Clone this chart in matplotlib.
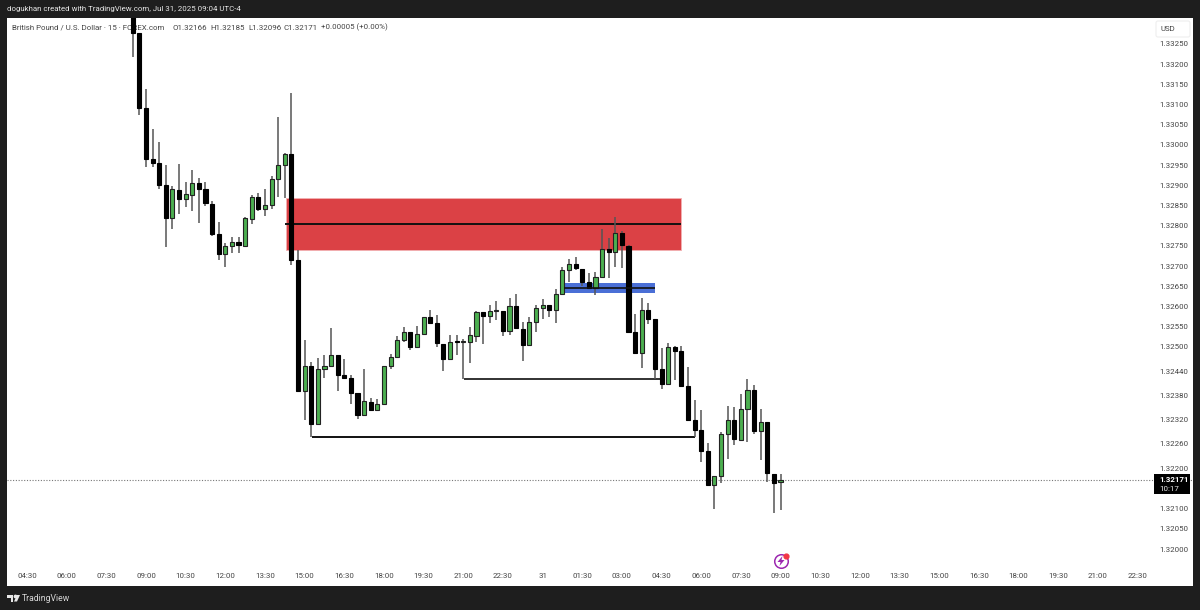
import matplotlib
matplotlib.use('Agg')
import matplotlib.pyplot as plt
from matplotlib.patches import Rectangle, FancyBboxPatch, Polygon

plt.rcParams['font.family'] = ['Roboto', 'DejaVu Sans']

# 15 minute candles
opens = [
    1.33346, 1.33277, 1.33091, 1.32965, 1.32955, 1.32901, 1.32819, 1.32889, 1.32866, 1.32876,
    1.32906, 1.32891, 1.32854, 1.32780, 1.32730, 1.32750, 1.32760, 1.32750, 1.32817, 1.32871,
    1.32842, 1.32851, 1.32916, 1.32950, 1.32978, 1.32715, 1.32391, 1.32453, 1.32309, 1.32446,
    1.32453, 1.32480, 1.32431, 1.32423, 1.32386, 1.32332, 1.32364, 1.32344, 1.32359, 1.32453,
    1.32475, 1.32517, 1.32537, 1.32500, 1.32532, 1.32574, 1.32559, 1.32507, 1.32470, 1.32515,
    1.32512, 1.32512, 1.32527, 1.32587, 1.32577, 1.32589, 1.32589, 1.32540, 1.32601, 1.32545,
    1.32505, 1.32562, 1.32596, 1.32604, 1.32592, 1.32631, 1.32691, 1.32705, 1.32693, 1.32661,
    1.32646, 1.32673, 1.32743, 1.32735, 1.32782, 1.32750, 1.32537, 1.32485, 1.32592, 1.32569,
    1.32446, 1.32408, 1.32500, 1.32490, 1.32403, 1.32319, 1.32295, 1.32243, 1.32158, 1.32181,
    1.32285, 1.32319, 1.32270, 1.32346, 1.32394, 1.32292, 1.32314, 1.32186, 1.32166,
]
highs = [
    1.33358, 1.33277, 1.33139, 1.33040, 1.33007, 1.32950, 1.32898, 1.32953, 1.32908, 1.32938,
    1.32918, 1.32908, 1.32861, 1.32809, 1.32757, 1.32772, 1.32772, 1.32822, 1.32876, 1.32881,
    1.32891, 1.32923, 1.33069, 1.32980, 1.33129, 1.32740, 1.32517, 1.32463, 1.32473, 1.32480,
    1.32547, 1.32480, 1.32470, 1.32431, 1.32386, 1.32446, 1.32374, 1.32371, 1.32453, 1.32483,
    1.32527, 1.32549, 1.32537, 1.32552, 1.32574, 1.32592, 1.32579, 1.32507, 1.32530, 1.32530,
    1.32520, 1.32549, 1.32590, 1.32587, 1.32604, 1.32614, 1.32589, 1.32621, 1.32631, 1.32562,
    1.32574, 1.32604, 1.32619, 1.32604, 1.32644, 1.32698, 1.32718, 1.32723, 1.32693, 1.32683,
    1.32686, 1.32792, 1.32770, 1.32822, 1.32787, 1.32752, 1.32582, 1.32621, 1.32609, 1.32569,
    1.32497, 1.32510, 1.32502, 1.32502, 1.32450, 1.32369, 1.32344, 1.32262, 1.32181, 1.32290,
    1.32354, 1.32351, 1.32384, 1.32421, 1.32406, 1.32346, 1.32314, 1.32186, 1.32185,
]
lows = [
    1.33218, 1.33074, 1.32945, 1.32945, 1.32891, 1.32747, 1.32792, 1.32829, 1.32846, 1.32837,
    1.32807, 1.32849, 1.32775, 1.32715, 1.32698, 1.32733, 1.32733, 1.32750, 1.32804, 1.32837,
    1.32824, 1.32842, 1.32871, 1.32869, 1.32703, 1.32391, 1.32319, 1.32277, 1.32309, 1.32423,
    1.32453, 1.32391, 1.32423, 1.32359, 1.32322, 1.32332, 1.32344, 1.32344, 1.32359, 1.32446,
    1.32475, 1.32512, 1.32493, 1.32500, 1.32532, 1.32559, 1.32500, 1.32441, 1.32470, 1.32480,
    1.32421, 1.32460, 1.32512, 1.32507, 1.32559, 1.32567, 1.32527, 1.32530, 1.32547, 1.32465,
    1.32505, 1.32537, 1.32569, 1.32574, 1.32559, 1.32629, 1.32661, 1.32691, 1.32651, 1.32646,
    1.32629, 1.32671, 1.32671, 1.32698, 1.32695, 1.32537, 1.32485, 1.32448, 1.32557, 1.32421,
    1.32396, 1.32408, 1.32418, 1.32403, 1.32319, 1.32277, 1.32215, 1.32158, 1.32099, 1.32163,
    1.32223, 1.32257, 1.32270, 1.32265, 1.32285, 1.32220, 1.32166, 1.32089, 1.32096,
]
closes = [
    1.33277, 1.33091, 1.32965, 1.32955, 1.32901, 1.32819, 1.32891, 1.32866, 1.32879, 1.32906,
    1.32891, 1.32856, 1.32780, 1.32730, 1.32750, 1.32760, 1.32752, 1.32819, 1.32871, 1.32842,
    1.32851, 1.32916, 1.32950, 1.32978, 1.32715, 1.32391, 1.32453, 1.32309, 1.32446, 1.32453,
    1.32480, 1.32431, 1.32423, 1.32386, 1.32332, 1.32366, 1.32344, 1.32359, 1.32453, 1.32475,
    1.32517, 1.32537, 1.32500, 1.32532, 1.32574, 1.32559, 1.32510, 1.32470, 1.32512, 1.32513,
    1.32513, 1.32530, 1.32587, 1.32577, 1.32589, 1.32590, 1.32540, 1.32601, 1.32547, 1.32505,
    1.32562, 1.32596, 1.32604, 1.32592, 1.32631, 1.32691, 1.32705, 1.32695, 1.32661, 1.32646,
    1.32673, 1.32743, 1.32735, 1.32782, 1.32752, 1.32537, 1.32485, 1.32592, 1.32569, 1.32446,
    1.32408, 1.32500, 1.32490, 1.32403, 1.32319, 1.32295, 1.32243, 1.32158, 1.32181, 1.32285,
    1.32319, 1.32272, 1.32346, 1.32394, 1.32292, 1.32314, 1.32188, 1.32163, 1.32171,
]

time_labels = ['04:30', '06:00', '07:30', '09:00', '10:30', '12:00', '13:30', '15:00', '16:30', '18:00',
               '19:30', '21:00', '22:30', '31', '01:30', '03:00', '04:30', '06:00', '07:30', '09:00',
               '10:30', '12:00', '13:30', '15:00', '16:30', '18:00', '19:30', '21:00', '22:30']
time_ticks = list(range(-16, 158, 6))
price_ticks = [1.33250, 1.33200, 1.33150, 1.33100, 1.33050, 1.33000, 1.32950, 1.32900, 1.32850,
               1.32800, 1.32750, 1.32700, 1.32650, 1.32600, 1.32550, 1.32500, 1.32440, 1.32380,
               1.32320, 1.32260, 1.32200, 1.32100, 1.32050, 1.32000]

last_price = 1.32171
legend_parts = ['British Pound / U.S. Dollar · 15 · FOREX.com', 'O1.32166', 'H1.32185', 'L1.32096',
                'C1.32171', '+0.00005 (+0.00%)']
legend_x = [12, 173, 210.5, 248, 284, 321]

W, H = 1200, 610
BG = '#1e1e1e'
GREEN = '#4caf50'
FS = 5.7

fig = plt.figure(figsize=(W / 100, H / 100), dpi=100, facecolor=BG)
ax = fig.add_axes([7 / W, 1 - 586 / H, 1186 / W, 568 / H], facecolor='white')
ax.set_xlim(-19.03, 160.4)
ax.set_ylim(1.32 + (549 - 586) * 2.475e-5, 1.32 + (549 - 18) * 2.475e-5)
for s in ax.spines.values():
    s.set_visible(False)

# zones under the candles
ax.add_patch(Rectangle((23.2, 1.32740), 59.7, 0.00129, fc='#db4145', ec='#f2b0b2', lw=0.6, zorder=2))
ax.add_patch(Rectangle((65.2, 1.32634), 13.8, 0.00024, fc='#4a6fd6', ec='none', zorder=2))
ax.hlines(1.32804, 23.0, 82.9, color='#111111', lw=1.4, zorder=3)

# candles
for i in range(len(opens)):
    up = closes[i] >= opens[i]
    ax.vlines(i, lows[i], highs[i], color='#555555', lw=1.1, zorder=4)
    bottom = min(opens[i], closes[i])
    height = max(abs(closes[i] - opens[i]), 0.00002)
    ax.bar(i, height, bottom=bottom, width=0.62, color=GREEN if up else 'black',
           edgecolor='#222222' if up else 'black', linewidth=0.8, zorder=5)

# trend lines
ax.hlines(1.32646, 65.2, 79.0, color='#111111', lw=1.2, zorder=6)
ax.hlines(1.32421, 50.1, 80.0, color='#222222', lw=1.3, zorder=3)
ax.hlines(1.32278, 27.1, 85.0, color='#111111', lw=1.4, zorder=3)

# last price
ax.axhline(last_price, color='#777777', lw=0.8, ls=(0, (1, 1.5)), zorder=1)

# axes labels sit inside the white area
ax.set_xticks(time_ticks)
ax.set_xticklabels(time_labels)
ax.yaxis.tick_right()
ax.set_yticks(price_ticks)
ax.set_yticklabels(['%.5f' % p for p in price_ticks])
ax.tick_params(axis='x', length=0, pad=-9, labelsize=FS, labelcolor='#444444')
ax.tick_params(axis='y', length=0, pad=-24.5, labelsize=FS, labelcolor='#444444')
for t in ax.get_yticklabels():
    t.set_ha('left')

# legend text goes under the candles, the top candle covers part of it
for part, x in zip(legend_parts, legend_x):
    ax.text((x - 7) / 1186, 1 - 9.5 / 568, part, transform=ax.transAxes, fontsize=FS,
            color='#444444', va='center', ha='left', zorder=1)

# pixel overlay for the bits of chrome
ov = fig.add_axes([0, 0, 1, 1], facecolor='none')
ov.set_xlim(0, W)
ov.set_ylim(H, 0)
ov.axis('off')

ov.text(7, 9.5, 'dogukhan created with TradingView.com, Jul 31, 2025 09:04 UTC-4',
        fontsize=FS, color='#e8e8e8', va='center', ha='left')
ov.add_patch(FancyBboxPatch((1156, 21), 34, 16, boxstyle='round,pad=0,rounding_size=2',
                            fc='white', ec='#eeeeee', lw=0.8))
ov.text(1168, 29, 'USD', fontsize=FS, color='#444444', va='center', ha='center')

ov.add_patch(Rectangle((1154, 474), 36, 20, fc='black', ec='none'))
ov.text(1159, 480, '1.32171', fontsize=FS, color='white', weight='bold', va='center', ha='left')
ov.text(1159, 489, '10:17', fontsize=FS, color='#e8e8e8', va='center', ha='left')

# small event icon under the last bar
ov.scatter([781], [561], s=95, facecolor='white', edgecolor='#9c27b0', linewidth=1.1, zorder=5)
ov.add_patch(Polygon([(782.5, 556), (777.5, 562), (780.5, 562), (779.5, 566), (784.5, 560), (781.5, 560)],
                     closed=True, fc='#9c27b0', ec='none', zorder=6))
ov.scatter([785.5], [556], s=12, color='#f23645', zorder=7)

# bottom logo
ov.add_patch(Polygon([(7, 595), (13, 595), (13, 601.5), (10.5, 601.5), (10.5, 597.5), (7, 597.5)],
                     closed=True, fc='#e8e8e8', ec='none'))
ov.scatter([14.5], [596.3], s=3, color='#e8e8e8', marker='o')
ov.add_patch(Polygon([(14, 601.5), (17, 595), (20, 595), (17, 601.5)], closed=True, fc='#e8e8e8', ec='none'))
ov.text(22, 598.5, 'TradingView', fontsize=6.2, color='#d8d8d8', va='center', ha='left')

fig.savefig('out.png', dpi=100, facecolor=BG)
